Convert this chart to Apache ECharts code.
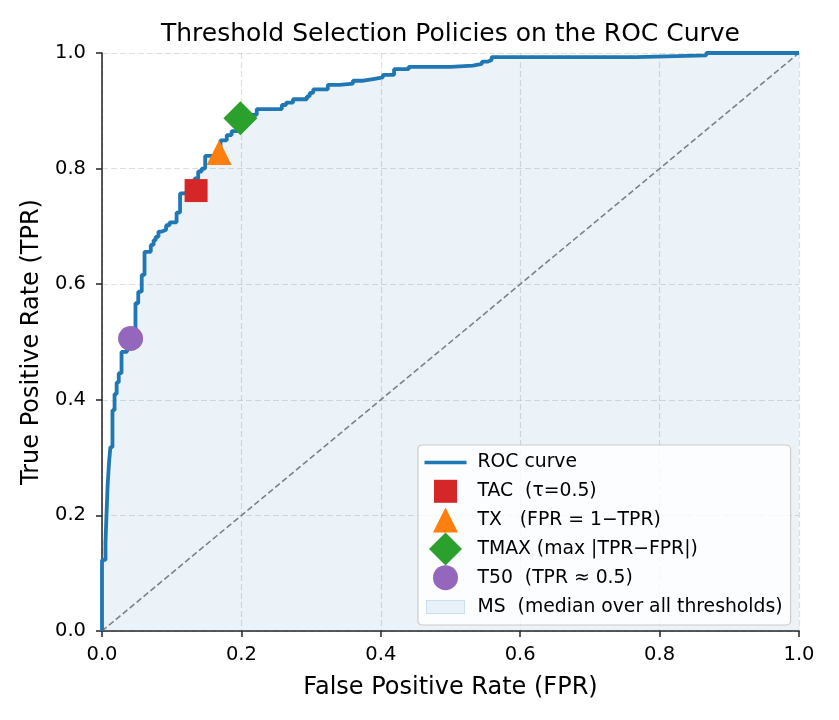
<!DOCTYPE html>
<html>
<head>
<meta charset="utf-8">
<script src="https://cdn.jsdelivr.net/npm/echarts@6/dist/echarts.min.js"></script>
<style>
  html, body { margin: 0; padding: 0; background: #fff; }
  #chart { width: 839px; height: 720px; }
</style>
</head>
<body>
<div id="chart"></div>
<script>
// ROC curve: each point is (FPR where TPR jumps, TPR after the jump),
// drawn with step 'end' so the line runs flat first, then up.
const rocFpr = [0, 0, 0.005, 0.006, 0.008, 0.010, 0.012, 0.015, 0.018, 0.021, 0.024, 0.028,
  0.036, 0.048, 0.052, 0.057, 0.061, 0.070, 0.074, 0.077, 0.081, 0.086, 0.092, 0.097,
  0.107, 0.112, 0.117, 0.133, 0.138, 0.143, 0.148, 0.170, 0.179, 0.186, 0.195, 0.215,
  0.222, 0.258, 0.264, 0.274, 0.294, 0.298, 0.303, 0.324, 0.341, 0.360, 0.375, 0.389,
  0.403, 0.419, 0.440, 0.500, 0.532, 0.545, 0.553, 0.559, 0.766, 0.867, 1.0];
const rocTpr = [0, 0.123, 0.152, 0.187, 0.25, 0.29, 0.318, 0.382, 0.41, 0.43, 0.446, 0.483,
  0.507, 0.567, 0.587, 0.616, 0.656, 0.668, 0.676, 0.682, 0.691, 0.694, 0.702, 0.707,
  0.724, 0.757, 0.760, 0.783, 0.795, 0.800, 0.822, 0.849, 0.858, 0.865, 0.887, 0.893,
  0.903, 0.910, 0.914, 0.920, 0.925, 0.931, 0.937, 0.945, 0.947, 0.952, 0.955, 0.958,
  0.962, 0.972, 0.976, 0.978, 0.981, 0.985, 0.988, 0.993, 0.996, 1.0, 1.0];

// Chance diagonal
const diagFpr = [0, 1];
const diagTpr = [0, 1];

// Threshold policy points [FPR, TPR]
const tacPoint = [0.135, 0.762];
const txPoint = [0.168, 0.828];
const tmaxPoint = [0.1985, 0.887];
const t50Point = [0.041, 0.506];

const seriesNames = [
  'ROC curve',
  'TAC  (τ=0.5)',
  'TX   (FPR = 1−TPR)',
  'TMAX (max |TPR−FPR|)',
  'T50  (TPR ≈ 0.5)',
  'MS  (median over all thresholds)',
];

const FONT = 'DejaVu Sans, sans-serif';
const C_BLUE = '#1f77b4';

const rocData = rocFpr.map((x, i) => [x, rocTpr[i]]);
const diagData = diagFpr.map((x, i) => [x, diagTpr[i]]);

// legend icons: fixed 33x33 (or 42x33) boxes so markers keep their real size
const ICON_LINE = 'path://M0,0M42,33M0,14.8L42,14.8L42,18.2L0,18.2Z';
const ICON_SQUARE = 'path://M0,0M33,33M5,5L28,5L28,28L5,28Z';
const ICON_TRI = 'path://M0,0M33,33M16.5,4L29,29L4,29Z';
const ICON_DIAMOND = 'path://M16.5,0L33,16.5L16.5,33L0,16.5Z';
const ICON_CIRCLE = 'path://M0,0M33,33M4,16.5A12.5,12.5,0,1,1,29,16.5A12.5,12.5,0,1,1,4,16.5Z';
const ICON_PATCH = 'path://M0,0M42,33M2,10L40,10L40,23L2,23Z';

const chart = echarts.init(document.getElementById('chart'), null, { renderer: 'canvas' });

const axisCommon = {
  type: 'value',
  min: 0,
  max: 1,
  interval: 0.2,
  nameLocation: 'middle',
  nameTextStyle: { fontFamily: FONT, fontSize: 24, color: '#000' },
  axisLine: { show: true, lineStyle: { color: '#222', width: 1.5 } },
  axisTick: { show: true, length: 6, lineStyle: { color: '#222', width: 1.5 } },
  axisLabel: {
    fontFamily: FONT, fontSize: 19.5, color: '#000',
    formatter: v => v.toFixed(1),
  },
  splitLine: {
    show: true,
    lineStyle: { color: 'rgba(176,176,176,0.4)', width: 1.2, type: [6, 3] },
  },
};

chart.setOption({
  backgroundColor: '#fff',
  animation: false,
  title: {
    text: 'Threshold Selection Policies on the ROC Curve',
    left: 161,
    top: 22,
    padding: 0,
    textStyle: { fontFamily: FONT, fontSize: 25, fontWeight: 'normal', color: '#000' },
  },
  grid: { left: 102, right: 40, top: 53, bottom: 89 },
  xAxis: Object.assign({}, axisCommon, {
    name: 'False Positive Rate (FPR)',
    nameGap: 45,
    axisLabel: Object.assign({}, axisCommon.axisLabel, { margin: 14 }),
  }),
  yAxis: Object.assign({}, axisCommon, {
    name: 'True Positive Rate (TPR)',
    nameGap: 57,
    axisLabel: Object.assign({}, axisCommon.axisLabel, { margin: 16 }),
  }),
  legend: {
    orient: 'vertical',
    left: 418,
    top: 445,
    itemWidth: 42,
    itemHeight: 33,
    itemGap: -4.2,
    padding: [1, 8, 1, 6],
    backgroundColor: 'rgba(255,255,255,0.8)',
    borderColor: '#cccccc',
    borderWidth: 1.2,
    borderRadius: 4,
    selectedMode: false,
    textStyle: { fontFamily: FONT, fontSize: 18.8, color: '#000', padding: [0, 0, 0, 6] },
    data: [
      { name: seriesNames[0], icon: ICON_LINE },
      { name: seriesNames[1], icon: ICON_SQUARE },
      { name: seriesNames[2], icon: ICON_TRI },
      { name: seriesNames[3], icon: ICON_DIAMOND },
      { name: seriesNames[4], icon: ICON_CIRCLE },
      {
        name: seriesNames[5], icon: ICON_PATCH,
        itemStyle: { color: 'rgba(31,119,180,0.09)', borderColor: 'rgba(31,119,180,0.18)', borderWidth: 1 },
      },
    ],
  },
  series: [
    {
      name: seriesNames[5],
      type: 'line',
      step: 'end',
      data: rocData,
      symbol: 'none',
      silent: true,
      z: 1,
      color: 'rgba(31,119,180,0.09)',
      lineStyle: { width: 0, opacity: 0 },
      areaStyle: { color: 'rgba(31,119,180,0.09)', opacity: 1 },
    },
    {
      name: 'diag',
      type: 'line',
      data: diagData,
      symbol: 'none',
      silent: true,
      z: 2,
      lineStyle: { color: '#808080', width: 1.6, type: [6, 3] },
    },
    {
      name: seriesNames[0],
      type: 'line',
      step: 'end',
      data: rocData,
      symbol: 'none',
      z: 3,
      color: C_BLUE,
      lineStyle: { color: C_BLUE, width: 3.8 },
    },
    {
      name: seriesNames[1],
      type: 'scatter',
      data: [tacPoint],
      symbol: 'rect',
      symbolSize: 23,
      z: 5,
      itemStyle: { color: '#d62728', opacity: 1 },
    },
    {
      name: seriesNames[2],
      type: 'scatter',
      data: [txPoint],
      symbol: 'triangle',
      symbolSize: 25,
      z: 5,
      itemStyle: { color: '#ff7f0e', opacity: 1 },
    },
    {
      name: seriesNames[3],
      type: 'scatter',
      data: [tmaxPoint],
      symbol: 'diamond',
      symbolSize: 34,
      z: 5,
      itemStyle: { color: '#2ca02c', opacity: 1 },
    },
    {
      name: seriesNames[4],
      type: 'scatter',
      data: [t50Point],
      symbol: 'circle',
      symbolSize: 25,
      z: 5,
      itemStyle: { color: '#9467bd', opacity: 1 },
    },
  ],
});
</script>
</body>
</html>
